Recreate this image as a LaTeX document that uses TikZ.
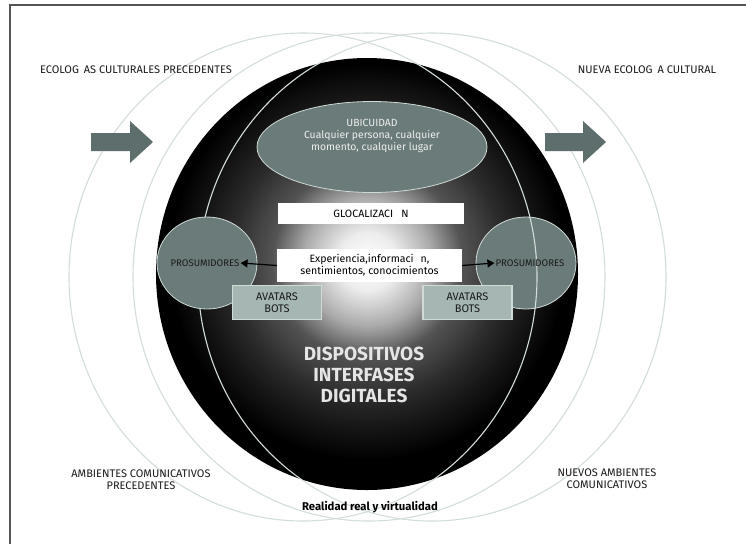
\documentclass[tikz,border=0pt]{standalone}
\usepackage{fontspec}
\setmainfont{Fira Sans}
\usetikzlibrary{shapes.geometric,arrows.meta}
\definecolor{framecol}{HTML}{555555}
\definecolor{ringcol}{HTML}{D3DDDA}
\definecolor{slate}{HTML}{5E6E6C}
\definecolor{ellfill}{HTML}{6B7B79}
\definecolor{avfill}{HTML}{A6B6B3}
\definecolor{avline}{HTML}{D0DAD7}
\definecolor{txtdark}{HTML}{1A1A1A}
\tikzset{
  ring/.style={draw=ringcol, line width=1.1pt},
  pros/.style={ellipse, draw=avline, fill=ellfill, line width=0.8pt, minimum width=100pt, minimum height=92pt, inner sep=0pt},
  prostext/.style={text=txtdark, inner sep=1pt, font=\fontsize{9.6}{11}\selectfont},
  whitebox/.style={rectangle, fill=white, inner sep=0pt, align=center, text=black, font=\fontsize{10.6}{12}\selectfont},
  avbox/.style={rectangle, fill=avfill, draw=avline, line width=1.3pt, inner sep=0pt, minimum width=89pt, minimum height=34pt, align=center, text=txtdark, font=\fontsize{11}{12}\selectfont},
  lbl/.style={text=txtdark, inner sep=0pt, align=center, font=\fontsize{11}{12}\selectfont},
  arr/.style={-{Triangle[length=7pt,width=8pt]}, line width=1.2pt, black},
  blockarrow/.style={fill=slate}
}
\begin{document}
\begin{tikzpicture}[x=1pt,y=-1pt]
\useasboundingbox (0,0) rectangle (746,544);
\fill[white] (0,0) rectangle (746,544);
\draw[framecol, line width=1.2pt] (10,544) -- (10,5) -- (746,5);

% sphere with radial gradient
\begin{scope}
\clip (367,274) ellipse [x radius=211pt, y radius=216pt];
\fill[black] (367,274) ellipse [x radius=212pt, y radius=217pt];
\foreach \r in {200,198,...,2}{
  \pgfmathsetmacro\bl{\r<30 ? 7*\r/30 : (\r<65 ? 7+26*(\r-30)/35 : (\r<96 ? 33+34*(\r-65)/31 : (\r<138 ? 67+16*(\r-96)/42 : (\r<162 ? 83+7*(\r-138)/24 : 90+10*(\r-162)/38))))}
  \fill[black!\bl] (368,262) circle [radius=\r pt];
}
\end{scope}

% right prosumidores (under rings)
\node[pros] (rp) at (526,263) {};

% rings
\draw[ring] (303,277) ellipse [x radius=234pt, y radius=244pt];
\draw[ring] (369,277) ellipse [x radius=236pt, y radius=244pt];
\draw[ring] (432,277) ellipse [x radius=234pt, y radius=244pt];

% left prosumidores (over rings)
\node[pros] (lp) at (207,263) {};

% block arrows
\fill[blockarrow] (91,133) -- (130,133) -- (130,121) -- (153,142) -- (130,163) -- (130,151) -- (91,151) -- cycle;
\fill[blockarrow] (545,133) -- (583,133) -- (583,121) -- (606,142) -- (583,163) -- (583,151) -- (545,151) -- cycle;

% ubicuidad
\node[ellipse, draw=avline, fill=ellfill, line width=0.8pt, minimum width=230pt, minimum height=91pt, inner sep=0pt] (ubi) at (372,147) {};
\node[text=white!88!ellfill, align=center, inner sep=0pt, font=\fontsize{10.4}{12}\selectfont] (ubit) at (372,136) {UBICUIDAD\\Cualquier persona, cualquier\\momento, cualquier lugar};

% white boxes
\node[whitebox, minimum width=186pt, minimum height=21pt] (glo) at (371,213.5) {GLOCALIZACI\hspace{8pt}N};
\node[whitebox, minimum width=185pt, minimum height=33pt] (exp) at (369.5,265.5) {Experiencia,informaci\hspace{7pt}n,\\sentimientos, conocimientos};

% prosumidores texts
\node[prostext] (lpt) at (205,263) {PROSUMIDORES};
\node[prostext] (rpt) at (530,263) {PROSUMIDORES};
\draw[arr] (exp.west) -- (lpt.east);
\draw[arr] (exp.east) -- (rpt.west);

% avatars
\node[avbox] (lav) at (277,302.5) {AVATARS\\BOTS};
\node[avbox] (rav) at (467.5,302.5) {AVATARS\\BOTS};

% central text
\node[text=white!90!black, align=center, inner sep=0pt, font=\fontsize{19}{21}\selectfont\bfseries] (disp) at (364,375) {DISPOSITIVOS\\INTERFASES\\DIGITALES};

% outer labels
\node[lbl] (ecoL) at (136,70) {ECOLOG\hspace{0.45em}AS CULTURALES PRECEDENTES};
\node[lbl] (ecoR) at (647,70) {NUEVA ECOLOG\hspace{0.45em}A CULTURAL};
\node[lbl] (ambL) at (141,480) {AMBIENTES COMUNICATIVOS\\PRECEDENTES};
\node[lbl] (ambR) at (607,479) {NUEVOS AMBIENTES\\COMUNICATIVOS};
\node[text=black, inner sep=0pt, font=\fontsize{11.3}{12}\selectfont\bfseries] (real) at (370,507) {Realidad real y virtualidad};
\end{tikzpicture}
\end{document}
